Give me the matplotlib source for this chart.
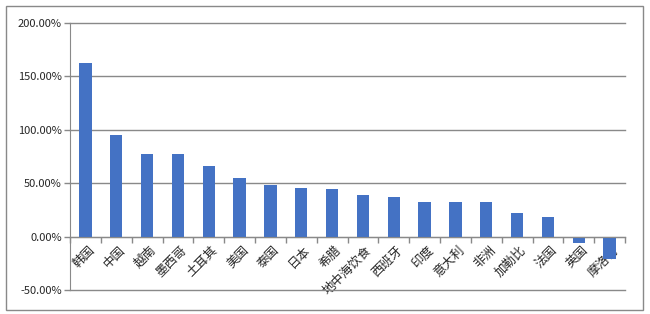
import matplotlib.pyplot as plt
from matplotlib.patches import Rectangle
from matplotlib.ticker import FuncFormatter, MultipleLocator
import numpy as np

plt.rcParams['font.family'] = ['Noto Sans CJK SC', 'DejaVu Sans']

countries = ['韩国', '中国', '越南', '墨西哥', '土耳其', '美国', '泰国', '日本', '希腊',
             '地中海饮食', '西班牙', '印度', '意大利', '非洲', '加勒比', '法国', '英国', '摩洛哥']
values = [163, 95.5, 77.7, 77.7, 65.8, 55.2, 48.0, 45.9, 45.0,
          39.3, 37.5, 32.8, 32.8, 32.8, 22.5, 18.7, -6.3, -20.6]

grey = '#898989'
text_c = '#262626'

fig = plt.figure(figsize=(6.5, 3.14), dpi=100)
fig.patches.append(Rectangle((6 / 650, 4 / 314), 637 / 650, 304 / 314,
                             transform=fig.transFigure, fill=False,
                             edgecolor=grey, lw=1))
ax = fig.add_axes([70 / 650, 1 - 290 / 314, 555 / 650, 267 / 314])

x = np.arange(len(countries))
ax.bar(x, values, width=0.4, color='#4472C4', zorder=3)

ax.set_xlim(-0.5, len(countries) - 0.5)
ax.set_ylim(-50, 200)
ax.yaxis.set_major_locator(MultipleLocator(50))
ax.yaxis.set_major_formatter(FuncFormatter(lambda v, p: f'{v:.2f}%'))
ax.grid(axis='y', color=grey, lw=1, zorder=0)
for gl in ax.get_ygridlines():
    gl.set_clip_on(False)

for s in ['top', 'right']:
    ax.spines[s].set_visible(False)
ax.spines['left'].set_color(grey)
ax.spines['bottom'].set_color(grey)
ax.spines['bottom'].set_position(('data', 0))
ax.spines['bottom'].set_zorder(4)

ax.set_xticks(x + 0.08)
ax.set_xticklabels(countries, rotation=45, ha='right', va='top',
                   rotation_mode='anchor', fontsize=9, color=text_c)
ax.set_xticks(np.arange(len(countries) + 1) - 0.5, minor=True)
ax.tick_params(axis='x', which='major', length=0, pad=5)
ax.tick_params(axis='x', which='minor', length=4, color=grey, width=1)
ax.tick_params(axis='y', length=4, color=grey, width=1, labelsize=8,
               labelcolor=text_c, pad=2)

fig.savefig('out.png', dpi=100)
